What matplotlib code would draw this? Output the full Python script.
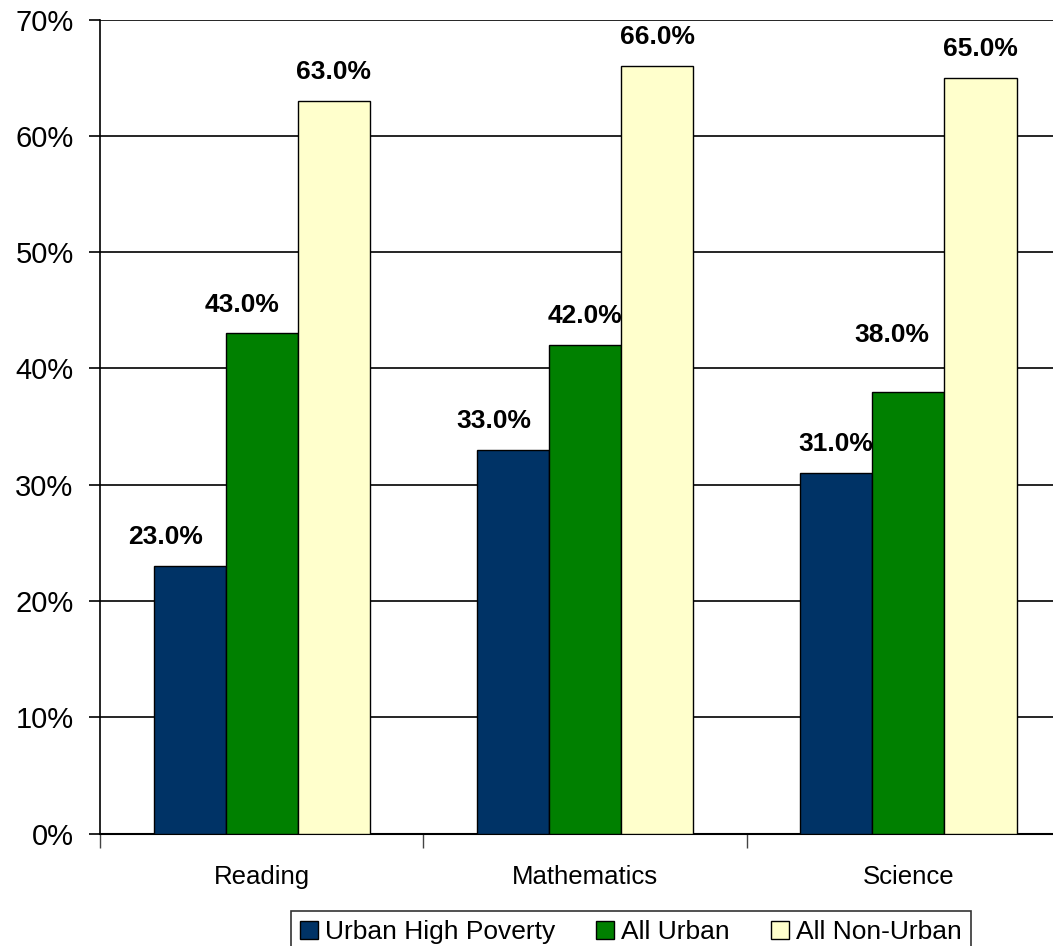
import numpy as np
import matplotlib
matplotlib.use('Agg')
import matplotlib.pyplot as plt
from matplotlib.ticker import FixedLocator, PercentFormatter

# Chart data
subjects = ['Reading', 'Mathematics', 'Science']
series_names = ['Urban High Poverty', 'All Urban', 'All Non-Urban']
high_poverty = [23.0, 33.0, 31.0]
all_urban = [43.0, 42.0, 38.0]
non_urban = [63.0, 66.0, 65.0]

colors = ['#003366', '#008000', '#FFFFCC']

# label nudges (points) to mimic the original label placement, [series][subject]
label_dx = [[-17, -14, 0], [-14, 0, -12], [0, 0, 0]]
label_dy = [[0, 0, 0], [0, 0, 20], [0, 0, 0]]

plt.rcParams['font.family'] = ['Liberation Sans', 'DejaVu Sans']

fig = plt.figure(figsize=(10.53, 9.46), dpi=100)
ax = fig.add_axes([100 / 1053, 1 - 833.5 / 946, 953 / 1053, 814 / 946])

x = np.arange(len(subjects))
width = 0.223
series = [high_poverty, all_urban, non_urban]

for i, (vals, name, col) in enumerate(zip(series, series_names, colors)):
    pos = x + (i - 1) * width
    bars = ax.bar(pos, vals, width, color=col, edgecolor='black',
                  linewidth=1.0, label=name, zorder=3)
    for j, (b, v) in enumerate(zip(bars, vals)):
        ax.annotate(f'{v:.1f}%', (b.get_x() + b.get_width() / 2, v),
                    xytext=(label_dx[i][j], 12 + label_dy[i][j]),
                    textcoords='offset points',
                    ha='center', va='bottom', fontsize=19,
                    fontweight='bold', zorder=4)

# y axis
ax.set_ylim(0, 70)
ax.set_yticks(np.arange(0, 71, 10))
ax.yaxis.set_major_formatter(PercentFormatter(decimals=0))
ax.tick_params(axis='y', labelsize=21, length=8, width=1.2, pad=11)
ax.grid(axis='y', color='black', linewidth=1.2, zorder=0)

# x axis: labels at centres, tick marks between groups
ax.set_xlim(-0.5, 2.5 - 17 / 323)
ax.set_xticks(x)
ax.set_xticklabels(subjects)
ax.tick_params(axis='x', which='major', length=0, labelsize=18.5, pad=23)
ax.xaxis.set_minor_locator(FixedLocator([-0.5, 0.5, 1.5]))
ax.tick_params(axis='x', which='minor', length=10, width=1.0, color='#444444')

for s in ['top', 'right']:
    ax.spines[s].set_visible(False)
ax.spines['left'].set_linewidth(1.2)
ax.spines['bottom'].set_linewidth(1.5)

leg = fig.legend(loc='upper center', bbox_to_anchor=(0.599, 1 - 911 / 946),
                 ncol=3, fontsize=19, frameon=True, fancybox=False,
                 edgecolor='black', handlelength=0.68, handleheight=0.68,
                 handletextpad=0.27, columnspacing=1.55, borderpad=0.35,
                 borderaxespad=0)
leg.get_frame().set_linewidth(1.2)

fig.savefig('out.png', dpi=100)
